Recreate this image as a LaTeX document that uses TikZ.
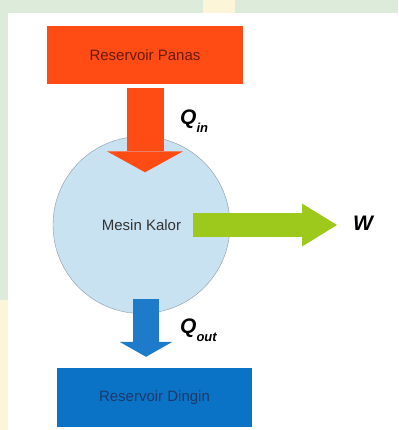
\documentclass[tikz,border=0pt]{standalone}
\usepackage{fontspec}
\setmainfont{Liberation Sans}
\usetikzlibrary{arrows.meta,calc}
\definecolor{hotred}{HTML}{FF4B14}
\definecolor{hottext}{HTML}{6B1A0A}
\definecolor{enginefill}{HTML}{C9E2F2}
\definecolor{engineline}{HTML}{8A9AA6}
\definecolor{workgreen}{HTML}{9DC91C}
\definecolor{coldarrow}{HTML}{1E7BCA}
\definecolor{coldbox}{HTML}{0B73C6}
\definecolor{coldtext}{HTML}{1B3A6B}
\definecolor{wmgreen}{HTML}{DCEBDA}
\definecolor{wmyellow}{HTML}{FCF5D8}
\newcommand{\qsym}[1]{{\fontsize{21}{21}\selectfont\bfseries\itshape Q}\raisebox{-8pt}{\fontsize{13}{13}\selectfont\bfseries\itshape #1}}

\begin{document}
\begin{tikzpicture}[x=1pt, y=-1pt,
	reservoir/.style={rectangle, minimum width=196pt, minimum height=58pt, inner sep=0pt, font=\fontsize{15}{15}\selectfont},
	lbl/.style={inner sep=0pt, anchor=base west},
	heatin/.style={draw=hotred, line width=37pt, -{Triangle[width=76pt, length=21pt, line width=0pt]}},
	heatout/.style={draw=coldarrow, line width=26pt, -{Triangle[width=53pt, length=15pt, line width=0pt]}},
	workflow/.style={draw=workgreen, line width=24pt, -{Triangle[width=43pt, length=35pt, line width=0pt]}}]

	%background
	\useasboundingbox (0,0) rectangle (398,430);
	\fill[wmgreen] (0,0) rectangle (398,430);
	\fill[wmyellow] (203,0) rectangle (235,13);
	\fill[wmyellow] (0,300) rectangle (8,430);
	\fill[white] (8,13) rectangle (398,430);

	%reservoirs and engine
	\node[reservoir, fill=hotred, text=hottext] (hot) at (145,55) {Reservoir Panas};
	\node[circle, fill=enginefill, draw=engineline, minimum size=177pt, inner sep=0pt, font=\fontsize{15}{15}\selectfont, text=black!80] (engine) at (141.5,225) {Mesin Kalor};
	\node[reservoir, minimum width=195pt, minimum height=59pt, fill=coldbox, text=coldtext] (cold) at (154.5,397.5) {Reservoir Dingin};

	%labels
	\node[lbl] (qin) at (180,125) {\qsym{in}};
	\node[lbl] (qout) at (180,333) {\qsym{out}};
	\node[lbl, font=\fontsize{21}{21}\selectfont\bfseries\itshape] (work) at (353,230) {W};

	%heat and work
	\draw[heatin] ([yshift=-4pt]hot.south) -- ($(hot.south |- engine.north)+(0,36)$);
	\draw[workflow] ($(engine.center)+(51.5,0)$) -- ($(work.west |- engine.center)+(-16,0)$);
	\coordinate (outstart) at ($(engine.south)+(4.5,-15)$);
	\draw[heatout] (outstart) -- ($(outstart |- cold.north)+(0,-11)$);

\end{tikzpicture}
\end{document}
